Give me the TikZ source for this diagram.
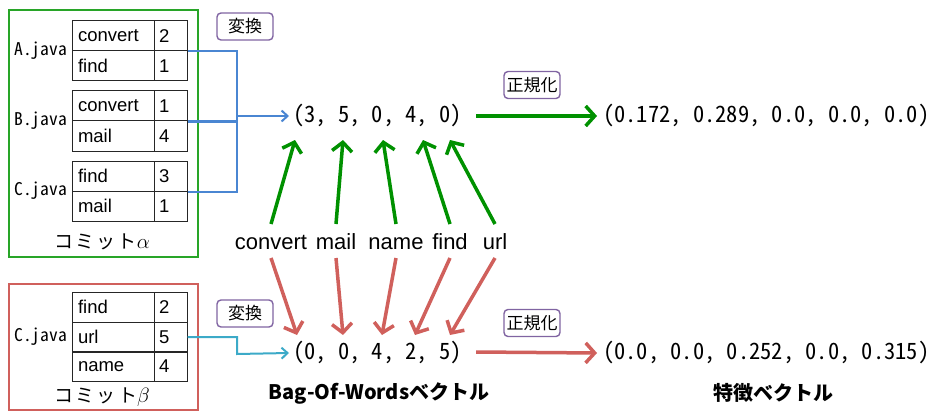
\documentclass[tikz,border=0pt]{standalone}
\usepackage{fontspec}
\setmainfont{Liberation Sans}
\newfontfamily\jp{Noto Sans CJK JP}
\newfontfamily\jph[RawFeature=+hwid]{Noto Sans CJK JP}
\newfontfamily\jpw[LetterSpace=12]{Noto Sans CJK JP}
\usetikzlibrary{arrows.meta}
\definecolor{gbox}{RGB}{40,165,40}
\definecolor{garr}{RGB}{0,145,0}
\definecolor{rbox}{RGB}{208,96,92}
\definecolor{bline}{RGB}{74,134,210}
\definecolor{cline}{RGB}{60,170,200}
\definecolor{purp}{RGB}{128,100,162}
\tikzset{
  cellw/.style={draw=black!85,line width=1pt,minimum width=82pt,minimum height=30pt,inner sep=0pt,text width=70pt,align=left,font=\fontsize{18.5}{19}\selectfont},
  celln/.style={draw=black!85,line width=1pt,minimum width=33pt,minimum height=30pt,inner sep=0pt,text width=23pt,align=left,font=\fontsize{18.5}{19}\selectfont},
  fname/.style={anchor=east,inner sep=0pt,font=\jph\fontsize{17.5}{17.5}\selectfont},
  commit/.style={inner sep=0pt,font=\jpw\fontsize{19}{19}\selectfont},
  tagbox/.style={draw=purp,line width=1.4pt,rounded corners=4pt,minimum height=27pt,minimum width=56pt,inner sep=2pt,font=\jp\fontsize{17}{17}\selectfont},
  vecl/.style={anchor=west,inner sep=0pt,font=\jph\fontsize{22.5}{22.5}\selectfont},
  word/.style={anchor=base,inner sep=0pt,font=\fontsize{22}{22}\selectfont},
  captxt/.style={inner sep=0pt,font=\jp\bfseries\fontsize{20}{20}\selectfont},
  thinb/.style={draw=bline,line width=2pt,-{Straight Barb[length=6pt,width=11pt]}},
  thinb0/.style={draw=bline,line width=2pt},
  thinc/.style={draw=cline,line width=2pt,-{Straight Barb[length=6pt,width=11pt]}},
  garrow/.style={draw=garr,line width=3.5pt,-{Straight Barb[length=9pt,width=20pt]}},
  rarrow/.style={draw=rbox,line width=3.5pt,-{Straight Barb[length=9pt,width=20pt]}},
}
\begin{document}
\begin{tikzpicture}[x=1pt,y=-1pt]
\useasboundingbox (0,0) rectangle (938,412);
% commit alpha box
\node[draw=gbox,line width=1.5pt,minimum width=189pt,minimum height=247pt,inner sep=0pt] (alpha) at (103.5,133.5) {};
% table A
\node[cellw] (a1w) at (113,36) {convert};
\node[celln] (a1n) at (170.5,36) {2};
\node[cellw] (a2w) at (113,66) {find};
\node[celln] (a2n) at (170.5,66) {1};
\node[fname] (fa) at (67,51) {A.java};
% table B
\node[cellw] (b1w) at (113,106) {convert};
\node[celln] (b1n) at (170.5,106) {1};
\node[cellw] (b2w) at (113,136) {mail};
\node[celln] (b2n) at (170.5,136) {4};
\node[fname] (fb) at (67,121) {B.java};
% table C
\node[cellw] (c1w) at (113,176) {find};
\node[celln] (c1n) at (170.5,176) {3};
\node[cellw] (c2w) at (113,206) {mail};
\node[celln] (c2n) at (170.5,206) {1};
\node[fname] (fc) at (67,191) {C.java};
\node[commit] (ca) at (102,242) {コミット{\fontsize{22}{22}\selectfont$\alpha$}};
% commit beta box
\node[draw=rbox,line width=1.5pt,minimum width=189pt,minimum height=126pt,inner sep=0pt] (beta) at (103.5,347) {};
\node[cellw] (d1w) at (113,307) {find};
\node[celln] (d1n) at (170.5,307) {2};
\node[cellw] (d2w) at (113,337) {url};
\node[celln] (d2n) at (170.5,337) {5};
\node[cellw] (d3w) at (113,366.5) {name};
\node[celln] (d3n) at (170.5,366.5) {4};
\node[fname] (fd) at (67,337) {C.java};
\node[commit] (cb) at (102,397) {コミット{\fontsize{22}{22}\selectfont$\beta$}};
% tags
\node[tagbox] (t1) at (245,26.5) {変換};
\node[tagbox] (t2) at (245,313.5) {変換};
\node[tagbox] (t3) at (532,85) {正規化};
\node[tagbox] (t4) at (532,323) {正規化};
% vectors
\node[vecl] (vA) at (293,116) {(3, 5, 0, 4, 0)};
\node[vecl] (vB) at (293,353) {(0, 0, 4, 2, 5)};
\node[vecl] (rA) at (603,116) {(0.172, 0.289, 0.0, 0.0, 0.0)};
\node[vecl] (rB) at (603,353) {(0.0, 0.0, 0.252, 0.0, 0.315)};
% words
\node[word] (w1) at (271,249) {convert};
\node[word] (w2) at (336,249) {mail};
\node[word] (w3) at (396,249) {name};
\node[word] (w4) at (450,249) {find};
\node[word] (w5) at (495,249) {url};
% captions
\node[captxt] (capA) at (379,393) {Bag-Of-Wordsベクトル};
\node[captxt] (capB) at (773,393) {特徴ベクトル};
% blue connectors
\coordinate (jA) at (237,116);
\draw[thinb0] (a1n.south east) -| (jA);
\draw[thinb0] (b1n.south east) -| (jA);
\draw[thinb0] (c1n.south east) -| (jA);
\draw[thinb] (jA) -- ([xshift=-4pt]vA.west);
\coordinate (jB) at (237,354);
\draw[thinc] (d2n.east) -| (jB) -- ([xshift=-4pt]vB.west);
% green arrows
\coordinate (ga1) at (295,140);
\coordinate (ga2) at (343,140);
\coordinate (ga3) at (383,140);
\coordinate (ga4) at (423,140);
\coordinate (ga5) at (450,140);
\draw[garrow] ([yshift=25pt]w1.base) -- (ga1);
\draw[garrow] ([yshift=25pt]w2.base) -- (ga2);
\draw[garrow] ([yshift=25pt]w3.base) -- (ga3);
\draw[garrow] ([yshift=25pt]w4.base) -- (ga4);
\draw[garrow] ([yshift=25pt]w5.base) -- (ga5);
% red arrows
\coordinate (ra1) at (297,335);
\coordinate (ra2) at (343,335);
\coordinate (ra3) at (382,335);
\coordinate (ra4) at (415,335);
\coordinate (ra5) at (450,335);
\draw[rarrow] ([yshift=-9pt]w1.base) -- (ra1);
\draw[rarrow] ([yshift=-9pt]w2.base) -- (ra2);
\draw[rarrow] ([yshift=-9pt]w3.base) -- (ra3);
\draw[rarrow] ([yshift=-9pt]w4.base) -- (ra4);
\draw[rarrow] ([yshift=-9pt]w5.base) -- (ra5);
% normalisation arrows
\draw[garrow] ([xshift=14pt]vA.east |- 0,116) -- ([xshift=-6pt]rA.west);
\draw[rarrow] ([xshift=14pt]vB.east |- 0,352) -- ([xshift=-6pt]rB.west);
\end{tikzpicture}
\end{document}
